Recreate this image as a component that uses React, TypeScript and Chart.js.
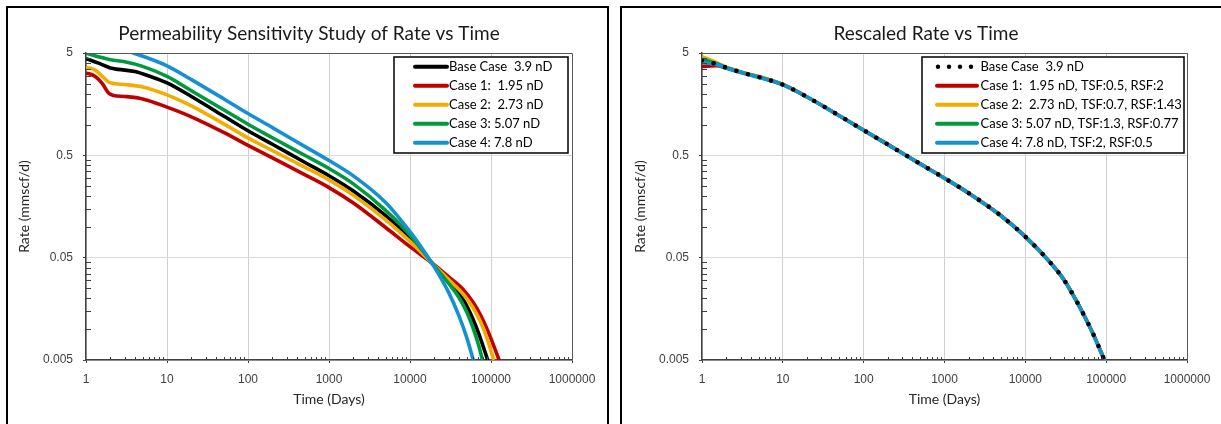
import React, { useEffect, useRef } from 'react';
import { Chart, registerables } from 'chart.js';

Chart.register(...registerables);

// Axis ticks (both panels share the same log-log frame)
const timeTicks = [1, 10, 100, 1000, 10000, 100000, 1000000];
const rateTicks = [0.005, 0.05, 0.5, 5];

// ---- Permeability sensitivity: rate (mmscf/d) vs time (days)
const baseTime = [1, 1.4, 2, 2.5, 4, 6, 10, 20, 50, 100, 200, 500, 1000, 2000, 5000, 10000, 20000, 30000, 40000, 50000, 60000, 70000, 80000, 91000];
const baseRate = [4.4, 4.0, 3.57, 3.46, 3.3, 2.98, 2.55, 1.88, 1.21, 0.869, 0.641, 0.428, 0.316, 0.224, 0.129, 0.078, 0.0418, 0.0298, 0.0228, 0.017, 0.0125, 0.0092, 0.0068, 0.005];

const case1Time = [1, 1.3, 1.6, 1.9, 2.2, 3, 5, 10, 20, 50, 100, 200, 500, 1000, 2000, 5000, 10000, 20000, 30000, 45000, 60000, 75000, 90000, 105000, 126000];
const case1Rate = [3.2, 2.95, 2.5, 2.03, 1.92, 1.88, 1.78, 1.48, 1.19, 0.838, 0.626, 0.472, 0.324, 0.242, 0.171, 0.0986, 0.0641, 0.0425, 0.0325, 0.0246, 0.0183, 0.0135, 0.0099, 0.0073, 0.005];

const case2Time = [1, 1.3, 1.6, 1.9, 2.3, 3, 5, 10, 20, 50, 100, 200, 500, 1000, 2000, 5000, 10000, 20000, 30000, 45000, 60000, 75000, 90000, 108000];
const case2Rate = [3.62, 3.4, 2.95, 2.6, 2.5, 2.46, 2.33, 1.95, 1.52, 1.016, 0.74, 0.557, 0.383, 0.288, 0.203, 0.117, 0.0721, 0.042, 0.0305, 0.0222, 0.0162, 0.0116, 0.008, 0.005];

const case3Time = [1, 1.5, 2, 3, 5, 10, 20, 50, 100, 200, 500, 1000, 2000, 5000, 10000, 20000, 30000, 40000, 50000, 60000, 70000, 78500];
const case3Rate = [5.0, 4.55, 4.3, 4.1, 3.7, 2.95, 2.14, 1.393, 1.007, 0.743, 0.501, 0.372, 0.263, 0.145, 0.0832, 0.0415, 0.028, 0.0205, 0.0148, 0.0103, 0.00705, 0.005];

const case4Time = [1, 2, 4, 10, 20, 50, 100, 200, 500, 1000, 2000, 5000, 10000, 14000, 20000, 30000, 40000, 50000, 60500];
const case4Rate = [6.6, 5.8, 4.95, 3.75, 2.75, 1.787, 1.28, 0.933, 0.612, 0.445, 0.315, 0.173, 0.0897, 0.062, 0.0404, 0.0229, 0.01365, 0.00836, 0.005];

// ---- Rescaled cases (time and rate scale factors applied)
const rescaledTime = [1, 1.5, 2, 3, 4, 6, 10, 20, 50, 100, 200, 500, 1000, 2000, 5000, 10000, 20000, 30000, 45000, 65000, 80000, 95000];
// early-time values differ per case, later times collapse onto one curve
const rescaledBaseHead = [4.25, 3.9, 3.6, 3.25, 3.05, 2.8, 2.45];
const rescaledCase1Head = [3.7, 3.75, 3.58, 3.27, 3.07, 2.82, 2.46];
const rescaledCase2Head = [4.6, 4.05, 3.63, 3.27, 3.08, 2.83, 2.47];
const rescaledCase3Head = [4.35, 3.95, 3.6, 3.25, 3.05, 2.8, 2.45];
const rescaledCase4Head = [4.05, 3.85, 3.55, 3.22, 3.03, 2.78, 2.44];
const rescaledTail = [1.857, 1.219, 0.88, 0.636, 0.413, 0.299, 0.213, 0.1285, 0.0802, 0.0455, 0.0305, 0.0176, 0.00995, 0.0069, 0.005];

// Legend labels
const leftLabels = ['Base Case  3.9 nD', 'Case 1:  1.95 nD', 'Case 2:  2.73 nD', 'Case 3: 5.07 nD', 'Case 4: 7.8 nD'];
const rightLabels = [
  'Base Case  3.9 nD',
  'Case 1:  1.95 nD, TSF:0.5, RSF:2',
  'Case 2:  2.73 nD, TSF:0.7, RSF:1.43',
  'Case 3: 5.07 nD, TSF:1.3, RSF:0.77',
  'Case 4: 7.8 nD, TSF:2, RSF:0.5',
];

const COLORS = ['#000000', '#C00000', '#F2AE00', '#00993D', '#1591D2'];

const H = 424;
const PLOT_TOP = 53;
const PLOT_BOTTOM = 360;
const PLOT_LEFT = 86;

type Series = { label: string; time: number[]; rate: number[]; color: string; dotted?: boolean; order: number };

function toDataset(s: Series) {
  return {
    label: s.label,
    data: s.time.map((t, i) => ({ x: t, y: s.rate[i] })),
    borderColor: s.color,
    backgroundColor: s.color,
    borderWidth: s.dotted ? 4.6 : 3.6,
    borderDash: s.dotted ? [0, 12] : [],
    borderCapStyle: s.dotted ? 'round' : 'butt',
    borderJoinStyle: 'round',
    pointRadius: 0,
    pointHoverRadius: 0,
    cubicInterpolationMode: 'monotone',
    fill: false,
    clip: 0,
    order: s.order,
  };
}

type Decor = {
  title: string;
  titleX: number;
  legendBox: [number, number, number, number];
  sampleX: [number, number];
  textX: number;
  rowY: number;
  rowGap: number;
};

const decorPlugin = {
  id: 'decor',
  afterDatasetsDraw(chart: any) {
    const { ctx, chartArea: a, scales } = chart;
    ctx.save();
    // upper and right edges of the plot frame
    ctx.strokeStyle = '#595959';
    ctx.lineWidth = 1;
    ctx.beginPath();
    ctx.moveTo(a.left, a.top + 0.5);
    ctx.lineTo(a.right + 0.5, a.top + 0.5);
    ctx.lineTo(a.right + 0.5, a.bottom);
    ctx.stroke();

    // minor ticks on the log axes
    ctx.strokeStyle = '#404040';
    ctx.beginPath();
    for (let e = 0; e < 6; e++) {
      for (let k = 2; k <= 9; k++) {
        const px = Math.round(scales.x.getPixelForValue(k * Math.pow(10, e))) + 0.5;
        ctx.moveTo(px, a.bottom);
        ctx.lineTo(px, a.bottom - 3);
      }
    }
    for (let e = 0; e < 3; e++) {
      for (let k = 2; k <= 9; k++) {
        const py = Math.round(scales.y.getPixelForValue(rateTicks[0] * Math.pow(10, e) * k)) + 0.5;
        ctx.moveTo(a.left, py);
        ctx.lineTo(a.left + 5, py);
      }
    }
    ctx.stroke();
    ctx.restore();
  },
  afterDraw(chart: any) {
    const { ctx, chartArea: a } = chart;
    const o: Decor = chart.options.plugins.decor;
    ctx.save();

    // chart title
    ctx.fillStyle = '#1a1a1a';
    ctx.font = '19px Lato';
    ctx.textAlign = 'center';
    ctx.textBaseline = 'alphabetic';
    ctx.fillText(o.title, o.titleX, 40);

    // axis titles
    ctx.font = '14px Lato';
    ctx.fillStyle = '#262626';
    ctx.fillText('Time (Days)', (a.left + a.right) / 2, 404);
    ctx.save();
    ctx.translate(24, (a.top + a.bottom) / 2);
    ctx.rotate(-Math.PI / 2);
    ctx.textBaseline = 'middle';
    ctx.fillText('Rate (mmscf/d)', 0, 0);
    ctx.restore();

    // legend
    const [x0, y0, x1, y1] = o.legendBox;
    ctx.fillStyle = '#ffffff';
    ctx.fillRect(x0, y0, x1 - x0, y1 - y0);
    ctx.strokeStyle = '#000000';
    ctx.lineWidth = 1.5;
    ctx.strokeRect(x0, y0, x1 - x0, y1 - y0);

    ctx.font = '13px Lato';
    ctx.textAlign = 'left';
    ctx.textBaseline = 'middle';
    chart.data.datasets.forEach((ds: any, i: number) => {
      const y = o.rowY + i * o.rowGap;
      const dotted = ds.borderDash && ds.borderDash.length > 0;
      if (dotted) {
        ctx.fillStyle = ds.borderColor;
        for (let d = 0; d < 4; d++) {
          ctx.beginPath();
          ctx.arc(o.sampleX[0] + 1 + d * 11, y, 2.2, 0, Math.PI * 2);
          ctx.fill();
        }
      } else {
        ctx.strokeStyle = ds.borderColor;
        ctx.lineWidth = 4;
        ctx.lineCap = 'round';
        ctx.beginPath();
        ctx.moveTo(o.sampleX[0], y);
        ctx.lineTo(o.sampleX[1], y);
        ctx.stroke();
      }
      ctx.fillStyle = '#000000';
      ctx.fillText(ds.label, o.textX, y + 0.5);
    });
    ctx.restore();
  },
};

type PanelProps = { left: number; width: number; plotRight: number; series: Series[]; decor: Decor };

function RatePanel({ left, width, plotRight, series, decor }: PanelProps) {
  const ref = useRef<HTMLCanvasElement>(null);

  useEffect(() => {
    if (!ref.current) return;
    const tickFont = { family: 'Liberation Sans', size: 12 };
    const chart = new Chart(ref.current, {
      type: 'line',
      data: { datasets: series.map(toDataset) as any },
      options: {
        animation: false,
        responsive: false,
        events: [],
        layout: { padding: { left: 0, top: PLOT_TOP, right: width - plotRight, bottom: 0 } },
        plugins: {
          legend: { display: false },
          tooltip: { enabled: false },
          title: { display: false },
          decor,
        } as any,
        scales: {
          x: {
            type: 'logarithmic',
            min: 1,
            max: 1000000,
            afterBuildTicks: (s: any) => {
              s.ticks = timeTicks.map((v) => ({ value: v }));
            },
            afterFit: (s: any) => {
              s.height = H - PLOT_BOTTOM;
            },
            ticks: {
              autoSkip: false,
              maxRotation: 0,
              padding: 9,
              color: '#404040',
              font: tickFont,
              callback: (v: any) => String(v),
            },
            grid: { color: '#d0d0d0', lineWidth: 1, tickLength: 3, tickColor: '#404040' },
            border: { color: '#404040', width: 1.5 },
          },
          y: {
            type: 'logarithmic',
            min: 0.005,
            max: 5,
            afterBuildTicks: (s: any) => {
              s.ticks = rateTicks.map((v) => ({ value: v }));
            },
            afterFit: (s: any) => {
              s.width = PLOT_LEFT;
            },
            ticks: {
              autoSkip: false,
              padding: 10,
              color: '#404040',
              font: tickFont,
              callback: (v: any) => String(v),
            },
            grid: { color: '#d9d9d9', lineWidth: 1, tickLength: 3, tickColor: '#404040' },
            border: { color: '#404040', width: 1.5 },
          },
        },
      } as any,
      plugins: [decorPlugin],
    });
    return () => chart.destroy();
  }, []);

  return (
    <canvas
      ref={ref}
      width={width}
      height={H}
      style={{ position: 'absolute', left, top: 0, width, height: H }}
    />
  );
}

const leftSeries: Series[] = [
  { label: leftLabels[0], time: baseTime, rate: baseRate, color: COLORS[0], order: 5 },
  { label: leftLabels[1], time: case1Time, rate: case1Rate, color: COLORS[1], order: 4 },
  { label: leftLabels[2], time: case2Time, rate: case2Rate, color: COLORS[2], order: 3 },
  { label: leftLabels[3], time: case3Time, rate: case3Rate, color: COLORS[3], order: 2 },
  { label: leftLabels[4], time: case4Time, rate: case4Rate, color: COLORS[4], order: 1 },
];

const rightSeries: Series[] = [
  { label: rightLabels[0], time: rescaledTime, rate: [...rescaledBaseHead, ...rescaledTail], color: COLORS[0], dotted: true, order: 0 },
  { label: rightLabels[1], time: rescaledTime, rate: [...rescaledCase1Head, ...rescaledTail], color: COLORS[1], order: 4 },
  { label: rightLabels[2], time: rescaledTime, rate: [...rescaledCase2Head, ...rescaledTail], color: COLORS[2], order: 3 },
  { label: rightLabels[3], time: rescaledTime, rate: [...rescaledCase3Head, ...rescaledTail], color: COLORS[3], order: 2 },
  { label: rightLabels[4], time: rescaledTime, rate: [...rescaledCase4Head, ...rescaledTail], color: COLORS[4], order: 1 },
];

export default function App() {
  return (
    <div
      style={{
        position: 'fixed',
        left: 0,
        top: 0,
        width: 1221,
        height: H,
        background: '#ffffff',
        overflow: 'hidden',
      }}
    >
      <div
        style={{
          position: 'absolute',
          left: 6,
          top: 6,
          width: 603,
          height: 440,
          border: '2px solid #000',
          boxSizing: 'border-box',
        }}
      />
      <div
        style={{
          position: 'absolute',
          left: 620,
          top: 6,
          width: 640,
          height: 440,
          border: '2px solid #000',
          boxSizing: 'border-box',
        }}
      />
      <RatePanel
        left={0}
        width={616}
        plotRight={572}
        series={leftSeries}
        decor={{
          title: 'Permeability Sensitivity Study of Rate vs Time',
          titleX: 309,
          legendBox: [394, 57, 568, 153],
          sampleX: [415, 447],
          textX: 449,
          rowY: 66.7,
          rowGap: 19,
        }}
      />
      <RatePanel
        left={616}
        width={605}
        plotRight={571}
        series={rightSeries}
        decor={{
          title: 'Rescaled Rate vs Time',
          titleX: 310,
          legendBox: [306, 57, 568, 153],
          sampleX: [321, 361],
          textX: 364.5,
          rowY: 66.7,
          rowGap: 19,
        }}
      />
    </div>
  );
}
